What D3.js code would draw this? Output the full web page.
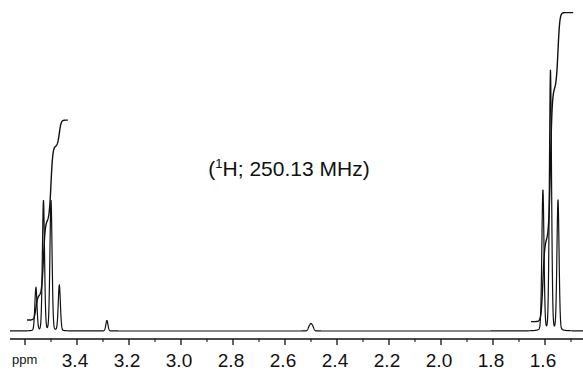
<!DOCTYPE html>
<meta charset="utf-8">
<script src="https://d3js.org/d3.v7.min.js"></script>
<style>body{margin:0;background:#fff}</style>
<div id="my_dataviz"></div>
<script>

// peak list: position (ppm) and relative height
const quartetPpm = [3.558, 3.529, 3.500, 3.468];
const quartetHeight = [16.5, 50, 50, 17.5];
const tripletPpm = [1.608, 1.579, 1.550];
const tripletHeight = [54, 100, 50];
const smallPpm = [3.285, 2.507, 2.500, 2.493];
const smallHeight = [4, 1.4, 2.2, 1.4];

// integral traces: start/end (ppm) and start/end level (same units as heights)
const integralFrom = [3.592, 1.654];
const integralTo = [3.435, 1.492];
const integralLow = [4.2, 3.6];
const integralHigh = [80.8, 122];

// axis ticks
const majorTicks = [3.6, 3.4, 3.2, 3.0, 2.8, 2.6, 2.4, 2.2, 2.0, 1.8, 1.6];
const minorTicks = [3.5, 3.3, 3.1, 2.9, 2.7, 2.5, 2.3, 2.1, 1.9, 1.7, 1.5];
const tickLabels = ["", "3.4", "3.2", "3.0", "2.8", "2.6", "2.4", "2.2", "2.0", "1.8", "1.6"];

const width = 583, height = 374;

const svg = d3.select("#my_dataviz")
  .append("svg")
    .attr("width", width)
    .attr("height", height)
    .style("font-family", "'Liberation Sans', Arial, sans-serif");

// ppm runs right to left
const x = d3.scaleLinear().domain([3.4, 1.6]).range([77, 545]);
const y = d3.scaleLinear().domain([0, 100]).range([331, 70]);

const peaks = [];
quartetPpm.forEach((p, i) => peaks.push({ppm: p, h: quartetHeight[i]}));
tripletPpm.forEach((p, i) => peaks.push({ppm: p, h: tripletHeight[i]}));
smallPpm.forEach((p, i) => peaks.push({ppm: p, h: smallHeight[i]}));

// mostly gaussian line shape with a little lorentzian skirt
const sig = 0.0042, hw = 0.004;
function intensity(ppm) {
  let s = 0;
  peaks.forEach(pk => {
    const d = ppm - pk.ppm;
    s += pk.h * (0.85 * Math.exp(-d * d / (2 * sig * sig)) + 0.15 / (1 + (d / hw) * (d / hw)));
  });
  return s;
}

// evaluate the line shape at every fraction of a pixel
const xs = d3.range(10, width + 0.1, 0.2);
const line = d3.line().x(d => d[0]).y(d => d[1]);

svg.append("path")
  .attr("d", line(xs.map(px => [px, y(intensity(x.invert(px)))])))
  .attr("fill", "none")
  .attr("stroke", "#111")
  .attr("stroke-width", 1.2);

// integral curves (step at each line, area ~ height)
const iw = 0.0035;
integralFrom.forEach((from, k) => {
  const to = integralTo[k];
  const inside = peaks.filter(pk => pk.ppm < from && pk.ppm > to);
  const total = d3.sum(inside, pk => pk.h);
  const pts = d3.range(x(from), x(to) + 0.1, 0.2).map(px => {
    const ppm = x.invert(px);
    let f = 0;
    inside.forEach(pk => { f += pk.h / (1 + Math.exp(-(pk.ppm - ppm) / iw)); });
    f /= total;
    return [px, y(integralLow[k] + f * (integralHigh[k] - integralLow[k]))];
  });
  svg.append("path")
    .attr("d", line(pts))
    .attr("fill", "none")
    .attr("stroke", "#111")
    .attr("stroke-width", 1.4);
});

// axis
const axisY = 339;
svg.append("line")
  .attr("x1", 10).attr("x2", width)
  .attr("y1", axisY).attr("y2", axisY)
  .attr("stroke", "#111").attr("stroke-width", 1.3);

svg.selectAll(".major").data(majorTicks).enter().append("line")
  .attr("x1", d => x(d)).attr("x2", d => x(d))
  .attr("y1", axisY).attr("y2", axisY + 6)
  .attr("stroke", "#111").attr("stroke-width", 1.3);

svg.selectAll(".minor").data(minorTicks).enter().append("line")
  .attr("x1", d => x(d)).attr("x2", d => x(d))
  .attr("y1", axisY).attr("y2", axisY + 3)
  .attr("stroke", "#111").attr("stroke-width", 1.1);

svg.selectAll(".lab").data(majorTicks).enter().append("text")
  .attr("x", d => x(d) - 2)
  .attr("y", 367)
  .attr("text-anchor", "middle")
  .style("font-size", "19px")
  .style("fill", "#111")
  .text((d, i) => tickLabels[i]);

svg.append("text")
  .attr("x", 12).attr("y", 364)
  .style("font-size", "13px")
  .style("fill", "#111")
  .text("ppm");

// nucleus / frequency note
const note = svg.append("text")
  .attr("x", 289).attr("y", 176)
  .attr("text-anchor", "middle")
  .style("font-size", "21px")
  .style("fill", "#111");
note.append("tspan").text("(");
note.append("tspan").attr("dy", -8).style("font-size", "13px").text("1");
note.append("tspan").attr("dy", 8).text("H; 250.13 MHz)");
</script>
